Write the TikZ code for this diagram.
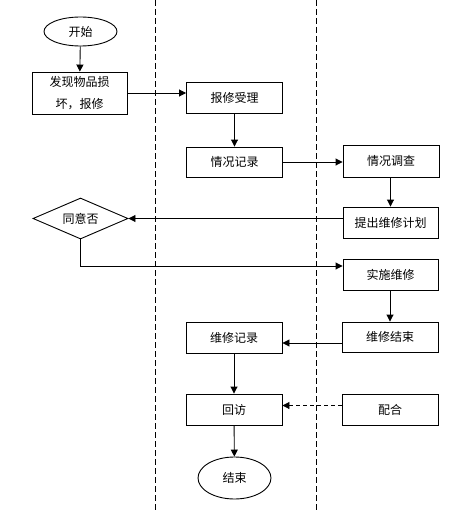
\documentclass[tikz,border=0pt]{standalone}
\usepackage{fontspec}
\newfontfamily\cjk{Noto Sans CJK SC}
\usetikzlibrary{arrows.meta,shapes.geometric}
\begin{document}
\begin{tikzpicture}[x=1pt,y=-1pt,
  every node/.style={font=\cjk\fontsize{12}{22}\selectfont, inner sep=0pt},
  box/.style={draw, line width=0.9pt, minimum width=96pt, minimum height=31pt, align=center},
  term/.style={draw, line width=0.9pt, ellipse, minimum width=73pt},
  dec/.style={draw, line width=0.9pt, diamond, shape aspect=2.3, minimum width=95pt, minimum height=41pt},
  arr/.style={line width=0.9pt, -{Triangle[length=7pt,width=7pt]}},
  darr/.style={arr, dash pattern=on 4pt off 3pt},
  lane/.style={line width=0.9pt, dash pattern=on 6pt off 3pt}]
\useasboundingbox[fill=white] (0,0) rectangle (470,511);
\draw[lane] (155,0) -- (155,511);
\draw[lane] (316,0) -- (316,511);

\node[term, minimum height=29pt] (start) at (80.5,31.5) {开始};
\node[box, minimum width=95pt, minimum height=42pt] (fx) at (79.5,93) {发现物品损\\坏，报修};
\node[box] (bx) at (234.5,97.5) {报修受理};
\node[box, minimum height=30pt] (qk) at (234.5,162) {情况记录};
\node[box, minimum height=32pt] (qd) at (391,161) {情况调查};
\node[box, minimum width=95pt] (tc) at (390.5,222.5) {提出维修计划};
\node[dec] (dia) at (80.5,218.5) {同意否};
\node[box, minimum width=95pt] (ss) at (390.5,274.5) {实施维修};
\node[box, minimum height=30pt] (wj) at (390,337) {维修结束};
\node[box] (wr) at (234,337.5) {维修记录};
\node[box] (hf) at (234,409.5) {回访};
\node[box] (ph) at (390,409.5) {配合};
\node[term, minimum height=42pt] (end) at (234.5,478) {结束};

\draw[arr] (start) -- (fx);
\draw[arr] (fx.east) -- (fx.east -| bx.west);
\draw[arr] (bx) -- (qk);
\draw[arr] (qk.east) -- (qk.east -| qd.west);
\draw[arr] (qd.south -| tc.north) -- (tc.north);
\draw[arr] (tc.west |- dia.east) -- (dia.east);
\coordinate (t1) at (80.5,266);
\draw[arr] (dia.south) -- (t1) -- (t1 -| ss.west);
\draw[arr] (ss.south -| wj.north) -- (wj.north);
\path ([yshift=-6pt]wj.west) coordinate (a1);
\draw[arr] (a1) -- (a1 -| wr.east);
\draw[arr] (wr) -- (hf);
\path ([yshift=4pt]ph.west) coordinate (a2);
\draw[darr] (a2) -- (a2 -| hf.east);
\draw[arr] (hf) -- (end);
\end{tikzpicture}
\end{document}
